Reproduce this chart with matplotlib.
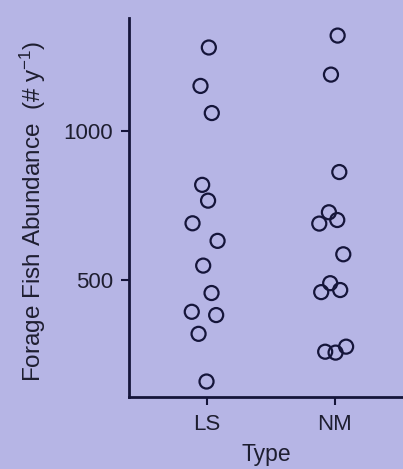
import matplotlib
matplotlib.use("Agg")
import matplotlib.pyplot as plt

plt.rcParams['font.family'] = ['Liberation Sans', 'DejaVu Sans']
plt.rcParams['mathtext.fontset'] = 'custom'
plt.rcParams['mathtext.rm'] = 'Liberation Sans'
plt.rcParams['mathtext.default'] = 'regular'

# Forage fish abundance by site type
categories = ["LS", "NM"]
ls_values = [1280, 1151, 1060, 819, 766, 690, 631, 548, 456, 393, 382, 319, 159]
ls_jitter = [0.018, -0.047, 0.041, -0.034, 0.012, -0.109, 0.086, -0.026, 0.039, -0.115, 0.075, -0.062, 0.0]
nm_values = [1320, 1189, 862, 727, 701, 689, 586, 489, 466, 459, 276, 259, 256]
nm_jitter = [0.021, -0.031, 0.034, -0.047, 0.018, -0.122, 0.065, -0.037, 0.041, -0.107, 0.087, -0.076, 0.005]
y_ticks = [500, 1000]

bg = "#b6b5e5"
ink = "#15153a"
txt = "#1e1e30"

fig = plt.figure(figsize=(4.03, 4.69), dpi=100, facecolor=bg)
ax = fig.add_axes([0.3213, 0.1535, 0.6787, 0.8075], facecolor=bg)

for i, (vals, jit) in enumerate([(ls_values, ls_jitter), (nm_values, nm_jitter)]):
    xs = [i + 1 + j for j in jit]
    ax.scatter(xs, vals, s=102, facecolors='none', edgecolors=ink, linewidths=1.6, zorder=3)

ax.set_xlim(0.4, 2.53)
ax.set_ylim(107, 1378)
ax.set_xticks([1, 2])
ax.set_xticklabels(categories)
ax.set_yticks(y_ticks)
ax.set_yticklabels([str(t) for t in y_ticks])

for side in ['top', 'right']:
    ax.spines[side].set_visible(False)
for side in ['left', 'bottom']:
    ax.spines[side].set_linewidth(2)
    ax.spines[side].set_color(ink)

ax.tick_params(axis='both', colors=ink, length=6, width=1.5, labelsize=16,
               labelcolor=txt)
ax.tick_params(axis='y', pad=6)
ax.tick_params(axis='x', pad=6)

ax.set_xlabel("Type", fontsize=16.5, color=txt, labelpad=6)
ax.set_ylabel(r"Forage Fish Abundance  (# y$^{-1}$)", fontsize=17.5, color=txt)
ax.yaxis.set_label_coords(-0.299, 0.49)

fig.savefig("out.png", dpi=100, facecolor=bg)
